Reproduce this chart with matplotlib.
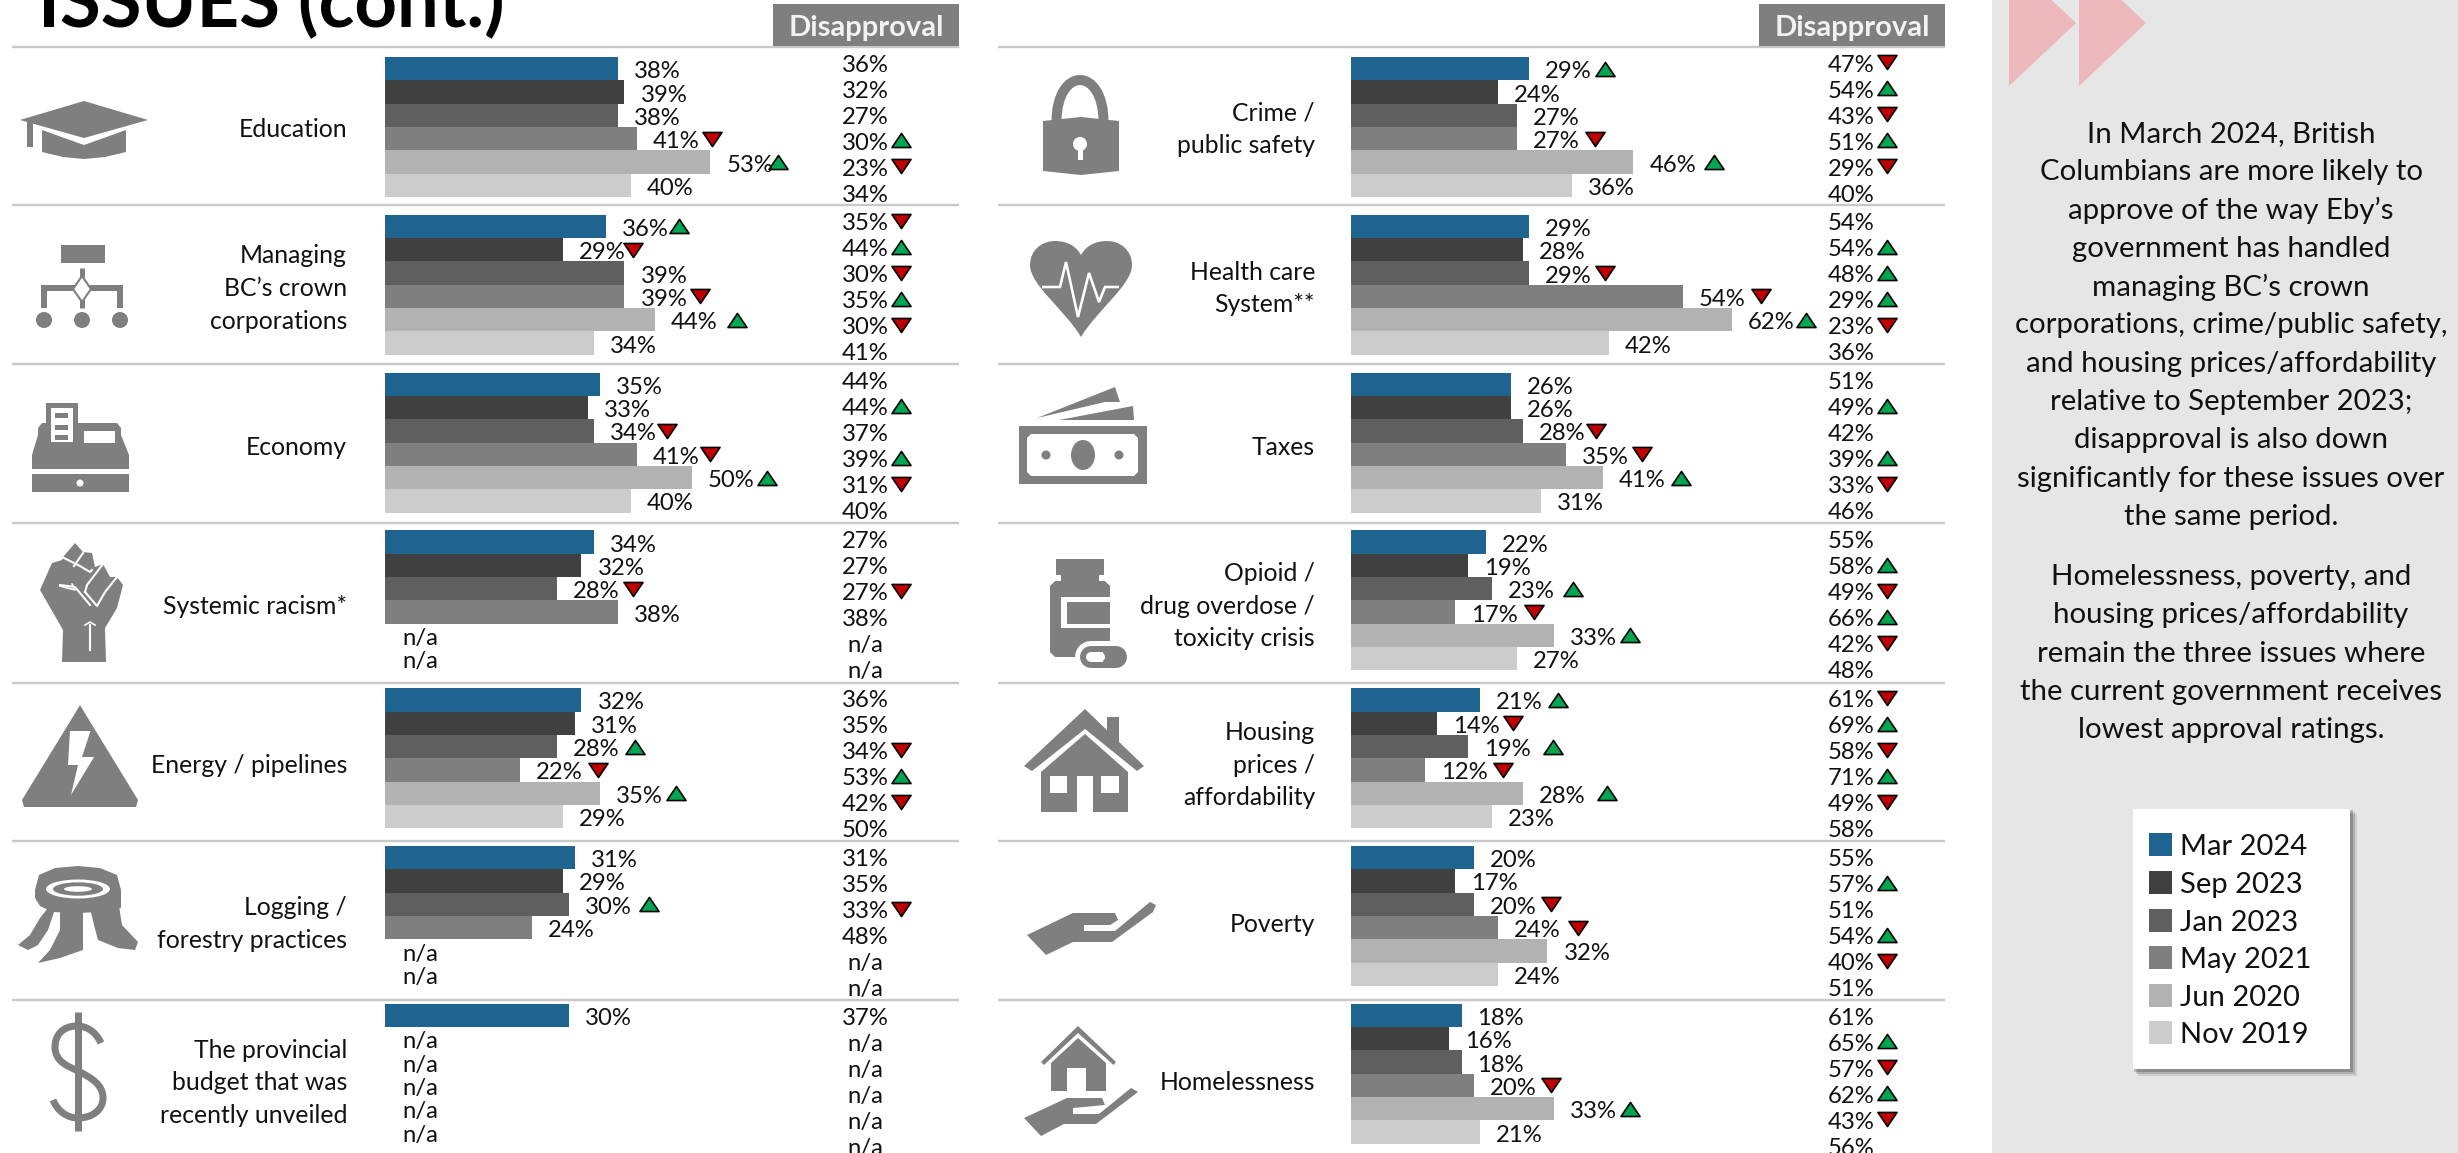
import matplotlib
matplotlib.use("Agg")
import matplotlib.pyplot as plt
from matplotlib.patches import Polygon, Rectangle, Ellipse, PathPatch
from matplotlib.path import Path
from matplotlib.transforms import ScaledTranslation

plt.rcParams['font.family'] = ['Lato', 'DejaVu Sans']

# ---------- data ----------
WAVES = ["Mar 2024", "Sep 2023", "Jan 2023", "May 2021", "Jun 2020", "Nov 2019"]
COLORS = ["#1F6391", "#404040", "#5F5F5F", "#7F7F7F", "#B2B2B2", "#CCCCCC"]

LABELS_L = ["Education", "Managing\nBC’s crown\ncorporations", "Economy", "Systemic racism*",
            "Energy / pipelines", "Logging /\nforestry practices",
            "The provincial\nbudget that was\nrecently unveiled"]
LABELS_R = ["Crime /\npublic safety", "Health care\nSystem**", "Taxes",
            "Opioid /\ndrug overdose /\ntoxicity crisis", "Housing\nprices /\naffordability",
            "Poverty", "Homelessness"]

N = None
APPROVE_L = [[38, 39, 38, 41, 53, 40], [36, 29, 39, 39, 44, 34], [35, 33, 34, 41, 50, 40],
             [34, 32, 28, 38, N, N], [32, 31, 28, 22, 35, 29], [31, 29, 30, 24, N, N],
             [30, N, N, N, N, N]]
APPROVE_TREND_L = [[0, 0, 0, -1, 1, 0], [1, -1, 0, -1, 1, 0], [0, 0, -1, -1, 1, 0],
                   [0, 0, -1, 0, 0, 0], [0, 0, 1, -1, 1, 0], [0, 0, 1, 0, 0, 0],
                   [0, 0, 0, 0, 0, 0]]
DISAPPROVE_L = [[36, 32, 27, 30, 23, 34], [35, 44, 30, 35, 30, 41], [44, 44, 37, 39, 31, 40],
                [27, 27, 27, 38, N, N], [36, 35, 34, 53, 42, 50], [31, 35, 33, 48, N, N],
                [37, N, N, N, N, N]]
DISAPPROVE_TREND_L = [[0, 0, 0, 1, -1, 0], [-1, 1, -1, 1, -1, 0], [0, 1, 0, 1, -1, 0],
                      [0, 0, -1, 0, 0, 0], [0, 0, -1, 1, -1, 0], [0, 0, -1, 0, 0, 0],
                      [0, 0, 0, 0, 0, 0]]

APPROVE_R = [[29, 24, 27, 27, 46, 36], [29, 28, 29, 54, 62, 42], [26, 26, 28, 35, 41, 31],
             [22, 19, 23, 17, 33, 27], [21, 14, 19, 12, 28, 23], [20, 17, 20, 24, 32, 24],
             [18, 16, 18, 20, 33, 21]]
APPROVE_TREND_R = [[1, 0, 0, -1, 1, 0], [0, 0, -1, -1, 1, 0], [0, 0, -1, -1, 1, 0],
                   [0, 0, 1, -1, 1, 0], [1, -1, 1, -1, 1, 0], [0, 0, -1, -1, 0, 0],
                   [0, 0, 0, -1, 1, 0]]
DISAPPROVE_R = [[47, 54, 43, 51, 29, 40], [54, 54, 48, 29, 23, 36], [51, 49, 42, 39, 33, 46],
                [55, 58, 49, 66, 42, 48], [61, 69, 58, 71, 49, 58], [55, 57, 51, 54, 40, 51],
                [61, 65, 57, 62, 43, 56]]
DISAPPROVE_TREND_R = [[-1, 1, -1, 1, -1, 0], [0, 1, 1, 1, -1, 0], [0, 1, 0, 1, -1, 0],
                      [0, 1, -1, 1, -1, 0], [-1, 1, -1, 1, -1, 0], [0, 1, 0, 1, -1, 0],
                      [0, 1, -1, 1, -1, 0]]

PARA1 = ["In March 2024, British", "Columbians are more likely to", "approve of the way Eby’s",
         "government has handled", "managing BC’s crown", "corporations, crime/public safety,",
         "and housing prices/affordability", "relative to September 2023;",
         "disapproval is also down", "significantly for these issues over", "the same period."]
PARA2 = ["Homelessness, poverty, and", "housing prices/affordability",
         "remain the three issues where", "the current government receives",
         "lowest approval ratings."]

# ---------- layout (pixels) ----------
W, H, DPI = 2458, 1153, 100
PT = 72 / DPI
GREY = "#7F7F7F"
PX_PER_PCT = 6.14
BAR_FS = 17.2
LABEL_FS = 17.8
TEXT_DY = 3
# arrow centre relative to bar end, where it differs from the usual 76 px
ARROW_DX_L = {(0, 3): 75, (0, 4): 68, (1, 0): 73, (1, 1): 70, (1, 4): 82, (2, 2): 73, (2, 3): 73,
              (2, 4): 75, (4, 2): 78, (4, 3): 78, (5, 2): 80}
ARROW_DX_R = {(0, 3): 78, (0, 4): 81, (1, 3): 78, (1, 4): 74, (2, 2): 73, (2, 4): 78,
              (3, 2): 81, (3, 3): 79, (4, 0): 78, (4, 2): 85, (4, 3): 78, (4, 4): 84,
              (5, 2): 77, (5, 3): 80, (6, 3): 77}

UP = Path([(-1, -.74), (1, -.74), (0, .74), (-1, -.74)], closed=True)
DOWN = Path([(-1, .74), (1, .74), (0, -.74), (-1, .74)], closed=True)
GREEN, RED = "#00A651", "#C00000"

fig = plt.figure(figsize=(W / DPI, H / DPI), dpi=DPI, facecolor="white")
deco = fig.add_axes([0, 0, 1, 1], zorder=0)
deco.set_xlim(0, W)
deco.set_ylim(H, 0)
deco.axis("off")


def poly(pts, color=GREY, z=2):
    deco.add_patch(Polygon(pts, closed=True, fc=color, ec="none", zorder=z))


def rect(x0, y0, x1, y1, color=GREY, z=2):
    deco.add_patch(Rectangle((x0, y0), x1 - x0, y1 - y0, fc=color, ec="none", zorder=z))


def ell(x, y, rx, ry, color=GREY, z=2):
    deco.add_patch(Ellipse((x, y), 2 * rx, 2 * ry, fc=color, ec="none", zorder=z))


def line(pts, lw, color=GREY, z=2, cap="butt"):
    deco.plot([p[0] for p in pts], [p[1] for p in pts], color=color, lw=lw * PT, zorder=z,
              solid_capstyle=cap, solid_joinstyle="miter")


def curve(start, segs, fill=True, lw=0, color=GREY, z=2):
    verts, codes = [start], [Path.MOVETO]
    for s in segs:
        verts += list(s)
        codes += [Path.CURVE4] * 3
    p = Path(verts, codes)
    if fill:
        deco.add_patch(PathPatch(p, fc=color, ec="none", zorder=z))
    else:
        deco.add_patch(PathPatch(p, fc="none", ec=color, lw=lw * PT, zorder=z))


# right-hand panel
rect(1992, 0, W, H, "#E6E6E6", 0)
for x in (2009, 2079):
    poly([(x, -40), (x + 67, 23), (x, 86)], "#EDB8BB", 1)
for i, s in enumerate(PARA1):
    deco.text(2231, 134 + 38.3 * i, s, ha="center", va="center", fontsize=21.2, color="#111111")
for i, s in enumerate(PARA2):
    deco.text(2231, 577 + 38.3 * i, s, ha="center", va="center", fontsize=21.2, color="#111111")

# legend card with a soft shadow
for k, a in zip((7, 5, 3), (.10, .15, .2)):
    rect(2133 + k - 2, 809 + k - 2, 2350 + k, 1069 + k, (0, 0, 0, a), 1)
rect(2133, 809, 2350, 1069, "white", 2)
LEG_TOP = [833, 871, 909, 946, 984, 1021]
for name, col, y in zip(WAVES, COLORS, LEG_TOP):
    rect(2149, y, 2172, y + 23, col, 3)
    deco.text(2180, y + 14, name, ha="left", va="center", fontsize=21.0, color="#111111", zorder=3)

# title, running off the top edge
deco.text(38, 27, "ISSUES (cont.)", ha="left", va="baseline", fontsize=53.5, fontweight="bold",
          color="black")

# separators and headers
SEP_Y = [46.5, 205, 364, 523, 682.5, 841, 1000]
for y in SEP_Y:
    line([(12, y), (959, y)], 2.4, "#C9C9C9", 1)
    line([(998, y), (1945, y)], 2.4, "#C9C9C9", 1)
for x0, x1 in ((773, 959), (1759, 1945)):
    rect(x0, 4, x1, 46, GREY, 2)
    deco.text((x0 + x1) / 2, 28, "Disapproval", ha="center", va="center", fontsize=21,
              fontweight="bold", color="#F2F2F2", zorder=3)

# ---------- bars ----------
BAR_TOP = [57 + 157.8 * r for r in range(7)]
BAR_H = 140
TXT_TOP = [62 + 158.9 * r for r in range(7)]


def draw_column(x0, x_label, x_dis, labels, approve, a_trend, disapprove, d_trend, dxs):
    for r in range(7):
        ax = fig.add_axes([x0 / W, 1 - (BAR_TOP[r] + BAR_H) / H, 440 / W, BAR_H / H], zorder=2)
        ax.set_xlim(0, 440 / PX_PER_PCT)
        ax.set_ylim(5.5, -0.5)
        ax.axis("off")
        ax.patch.set_alpha(0)
        vals = approve[r]
        for i, v in enumerate(vals):
            if v is None:
                ax.annotate("n/a", (0, i), xytext=(17 * PT, -TEXT_DY * PT), textcoords="offset points",
                            ha="left", va="center", fontsize=BAR_FS, color="#111111")
                continue
            ax.barh(i, v, height=1.0, color=COLORS[i], edgecolor="none")
            ax.annotate(f"{v}%", (v, i), xytext=(16 * PT, -TEXT_DY * PT), textcoords="offset points",
                        ha="left", va="center", fontsize=BAR_FS, color="#111111")
            t = a_trend[r][i]
            if t:
                dx = dxs.get((r, i), 76)
                tr = ax.transData + ScaledTranslation(dx / DPI, 0, fig.dpi_scale_trans)
                ax.plot([v], [i], transform=tr, marker=UP if t > 0 else DOWN, ms=19 * PT,
                        mfc=GREEN if t > 0 else RED, mec="black", mew=1.2, ls="none", clip_on=False)
        # issue label
        n = labels[r].count("\n")
        yc = 126.5 + TEXT_DY + 158.9 * r
        for j, s in enumerate(labels[r].split("\n")):
            deco.text(x_label, yc + (j - n / 2) * 32.7, s, ha="right", va="center",
                      fontsize=LABEL_FS, color="#111111")
        # disapproval column
        for i, v in enumerate(disapprove[r]):
            y = TXT_TOP[r] + 26 * i
            deco.text(x_dis, y + TEXT_DY, "n/a" if v is None else f"{v}%", ha="center", va="center",
                      fontsize=BAR_FS, color="#111111", clip_on=False)
            t = d_trend[r][i]
            if t:
                deco.plot([x_dis + 36], [y], marker=UP if t > 0 else DOWN, ms=19 * PT,
                          mfc=GREEN if t > 0 else RED, mec="black", mew=1.2, ls="none", zorder=3)


draw_column(385, 347, 865, LABELS_L, APPROVE_L, APPROVE_TREND_L, DISAPPROVE_L, DISAPPROVE_TREND_L, ARROW_DX_L)
draw_column(1351, 1315, 1851, LABELS_R, APPROVE_R, APPROVE_TREND_R, DISAPPROVE_R, DISAPPROVE_TREND_R, ARROW_DX_R)

# ---------- icons ----------
# graduation cap
poly([(42, 130), (84, 145), (126, 130), (126, 152), (105, 157), (84, 159), (63, 157), (42, 152)])
poly([(20, 120), (84, 101), (148, 120), (84, 138)])
rect(27, 122, 33, 147)

# org chart
rect(61, 245, 105, 263)
line([(82, 268), (82, 308)], 5)
line([(44, 308), (44, 288), (120, 288), (120, 308)], 6)
poly([(82, 276), (91, 289), (82, 302), (73, 289)], "white", 3)
deco.plot([82, 91, 82, 73, 82], [276, 289, 302, 289, 276], color=GREY, lw=1.5, zorder=4)
for x in (44, 82, 120):
    ell(x, 320, 8, 8)

# cash register
poly([(32, 469), (32, 455), (38, 435), (38, 428), (42, 423), (117, 423), (121, 428), (121, 435), (129, 455), (129, 469)])
rect(46, 403, 78, 440)
rect(51, 408, 73, 442, "white", 3)
for y in (413, 425, 435):
    rect(55, y, 68, y + 5, GREY, 4)
rect(84, 431, 115, 443, "white", 3)
rect(32, 474, 129, 492)
ell(80, 483, 3.5, 3.5, "white", 3)

# fist
poly([(62, 662), (106, 662), (105, 628), (117, 608), (123, 585), (117, 577), (110, 577), (103, 564),
      (95, 567), (92, 553), (83, 552), (75, 543), (63, 557), (62, 560), (52, 563), (40, 590), (63, 630)])
deco.plot([60, 75, 90], [585, 587, 605], color="white", lw=1.5, zorder=3)
deco.plot([60, 75, 72], [586, 590, 584], color="white", lw=1.2, zorder=3)
deco.plot([62, 80, 90, 92], [557, 566, 572, 570], color="white", lw=1.5, zorder=3)
deco.plot([83, 74], [553, 566], color="white", lw=1.5, zorder=3)
deco.plot([103, 87, 85], [564, 585, 592], color="white", lw=1.5, zorder=3)
deco.plot([117, 105, 97, 85], [577, 592, 606, 592], color="white", lw=1.5, zorder=3)
deco.plot([90, 90], [625, 650], color="white", lw=1.5, zorder=3)
deco.plot([85, 90, 95], [625, 622, 625], color="white", lw=1.2, zorder=3)

# energy triangle
poly([(80, 705), (86, 715), (138, 800), (136, 807), (24, 807), (22, 800), (74, 715)])
poly([(70, 731), (90.5, 731), (82, 757), (94, 757), (71, 795), (78, 765), (68, 765)], "white", 3)

# tree stump
poly([(35, 890), (39, 875), (55, 868), (78, 866), (100, 868), (117, 875), (121, 890), (121, 908),
      (100, 912), (78, 913), (52, 912), (40, 906), (35, 898)])
poly([(18, 945), (30, 935), (40, 918), (48, 908), (54, 912), (48, 930), (38, 945), (28, 950)])
poly([(60, 912), (83, 912), (83, 950), (60, 958), (38, 963), (50, 950), (60, 930)])
poly([(90, 908), (119, 906), (122, 925), (138, 942), (135, 950), (118, 948), (98, 940), (94, 925)])
ell(78, 889, 32, 9.5, "white", 3)
ell(78, 889, 25, 6.7, GREY, 4)
ell(78, 889, 14, 2.8, "white", 5)

# dollar sign
line([(78, 1012), (78, 1131)], 7)
curve((101, 1043), [((95, 1030), (85, 1026), (77, 1026)), ((62, 1026), (55, 1036), (55, 1047)),
                    ((55, 1062), (68, 1066), (78, 1071)), ((92, 1078), (103, 1085), (103, 1098)),
                    ((103, 1110), (92, 1118), (78, 1118)), ((68, 1118), (58, 1112), (53, 1100))],
      fill=False, lw=7)

# padlock
curve((1056.5, 122), [((1056.5, 66), (1103.5, 66), (1103.5, 122))], fill=False, lw=10)
poly([(1043, 121), (1081, 117), (1119, 121), (1119, 171), (1081, 175), (1043, 171)])
ell(1080, 144, 7, 7, "white", 3)
rect(1077.5, 147, 1082.5, 160, "white", 3)

# heart
curve((1081, 337), [((1065, 310), (1030, 285), (1030, 265)), ((1030, 250), (1042, 241), (1055, 241)),
                    ((1067, 241), (1076, 246), (1081, 255)), ((1086, 246), (1095, 241), (1107, 241)),
                    ((1120, 241), (1132, 250), (1132, 265)), ((1132, 285), (1097, 310), (1081, 337))])
line([(1042, 287), (1060, 287), (1066, 262), (1078, 317), (1089, 273), (1099, 302), (1105, 287), (1119, 287)],
     2.6, "white", 3)

# money
rect(1019, 426, 1147, 484)
poly([(1031, 434), (1134, 434), (1138, 438), (1138, 472), (1134, 476), (1031, 476), (1027, 472), (1027, 438)], "white", 3)
ell(1083, 455, 12, 15, GREY, 4)
ell(1046, 455, 4.5, 4.5, GREY, 4)
ell(1119, 455, 4.5, 4.5, GREY, 4)
poly([(1037, 418), (1115, 387), (1120, 402), (1105, 402)])
poly([(1059, 420), (1133, 406), (1134, 420)])

# pill bottle
rect(1056, 559, 1104, 575)
rect(1061, 575, 1099, 581)
poly([(1055, 581), (1105, 581), (1110, 586), (1110, 657), (1055, 657), (1050, 652), (1050, 586)])
rect(1061, 597, 1110, 628, "white", 3)
rect(1067, 602, 1110, 624, GREY, 4)
line([(1091, 657), (1116, 657)], 32, "white", 3, cap="round")
line([(1091, 657), (1116, 657)], 22, GREY, 4, cap="round")
line([(1091, 657), (1100, 657)], 10, "white", 5, cap="round")
rect(1100, 652, 1103, 662, "white", 5)

# house
rect(1107, 717, 1119, 745)
poly([(1085, 709), (1144, 766), (1137, 771), (1085, 729), (1032, 771), (1024, 766)])
poly([(1085, 734), (1128, 772), (1128, 812), (1041, 812), (1041, 772)])
rect(1050, 776, 1067, 793, "white", 3)
rect(1101, 776, 1119, 793, "white", 3)
rect(1076.5, 776, 1093, 813, "white", 3)

# open hand
poly([(1027, 935), (1073, 913), (1115, 913), (1118, 920), (1110, 925), (1084, 925), (1084, 931),
      (1115, 931), (1150, 902), (1156, 905), (1153, 912), (1112, 942), (1073, 942), (1046, 955)])

# house on a hand
poly([(1024, 1118), (1067, 1098), (1102, 1098), (1105, 1105), (1073, 1108), (1073, 1114), (1099, 1114),
      (1131, 1088), (1138, 1092), (1096, 1124), (1064, 1124), (1041, 1136)])
poly([(1078, 1038), (1106, 1063), (1106, 1091), (1086, 1091), (1086, 1068), (1067, 1068), (1067, 1091),
      (1051, 1091), (1051, 1063)])
poly([(1078, 1026), (1116, 1062), (1113.5, 1065), (1078, 1033), (1044, 1065), (1041, 1062)])

fig.savefig("out.png", dpi=DPI)
